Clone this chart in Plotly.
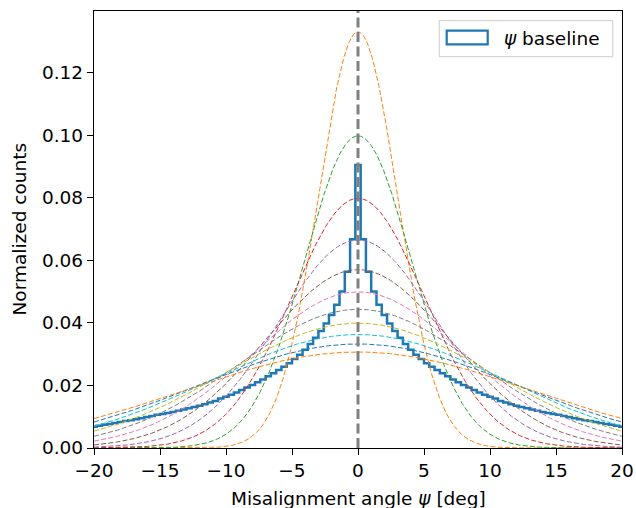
import numpy as np
import plotly.graph_objects as go

# ---------------- data ----------------
bin_first_edge = -20.2
bin_width = 0.4
# normalized counts of psi baseline histogram (101 bins, left to right)
counts_right = [0.0904, 0.0667, 0.0563, 0.0500, 0.0458, 0.0425, 0.0398, 0.0374, 0.0352, 0.0332,
                0.0314, 0.0298, 0.0284, 0.0271, 0.0260, 0.0249, 0.0239, 0.0229, 0.0219, 0.0210,
                0.0201, 0.0193, 0.0185, 0.0177, 0.0170, 0.0164, 0.0158, 0.0150, 0.0145, 0.0140,
                0.0135, 0.0131, 0.0127, 0.0123, 0.0119, 0.0115, 0.0112, 0.0109, 0.0106, 0.0102,
                0.0099, 0.0095, 0.0092, 0.0089, 0.0086, 0.0083, 0.0080, 0.0077, 0.0074, 0.0071,
                0.0068]
counts_left = [0.0068, 0.0071, 0.0074, 0.0077, 0.0080, 0.0083, 0.0086, 0.0089, 0.0092, 0.0095,
               0.0099, 0.0102, 0.0106, 0.0109, 0.0112, 0.0115, 0.0119, 0.0123, 0.0127, 0.0131,
               0.0135, 0.0140, 0.0145, 0.0150, 0.0158, 0.0164, 0.0170, 0.0177, 0.0185, 0.0193,
               0.0201, 0.0210, 0.0219, 0.0229, 0.0239, 0.0249, 0.0260, 0.0271, 0.0284, 0.0298,
               0.0314, 0.0332, 0.0352, 0.0374, 0.0398, 0.0425, 0.0458, 0.0500, 0.0563, 0.0667]
hist_counts = counts_left + counts_right

# widths (deg) of the reference Gaussian curves
sigmas = [3, 4, 5, 6, 7, 8, 9, 10, 11, 12, 13]
curve_colors = ["#ff7f0e", "#2ca02c", "#d62728", "#9467bd", "#8c564b", "#e377c2",
                "#7f7f7f", "#bcbd22", "#17becf", "#1f77b4", "#ff7f0e"]

x_ticks = [-20, -15, -10, -5, 0, 5, 10, 15, 20]
y_ticks = [0.00, 0.02, 0.04, 0.06, 0.08, 0.10, 0.12]
legend_label = "<i>ψ</i> baseline"
x_label = "Misalignment angle <i>ψ</i> [deg]"
y_label = "Normalized counts"

# ---------------- figure ----------------
FONT = "DejaVu Sans"
FS = 18.5
W, H = 636, 508
L, R, T, B = 94, 14, 11, 60
pw, ph = W - L - R, H - T - B

def px2paper_x(px):
    return (px - L) / pw

def px2paper_y(py):
    return (H - B - py) / ph

fig = go.Figure()

n = len(hist_counts)
edges = [bin_first_edge + i * bin_width for i in range(n + 1)]
hx = [edges[0]] + edges + [edges[-1]]
hy = [0] + hist_counts + [hist_counts[-1], 0]
fig.add_trace(go.Scatter(x=hx, y=hy, mode="lines", line=dict(color="#1f77b4", width=2.5, shape="hv"),
                         showlegend=False, hoverinfo="skip"))

xs = np.linspace(-20, 20, 801)
for s, c in zip(sigmas, curve_colors):
    ys = np.exp(-0.5 * (xs / s) ** 2) / (np.sqrt(2 * np.pi) * s)
    fig.add_trace(go.Scatter(x=xs, y=ys, mode="lines",
                             line=dict(color=c, width=1, dash="5px,2.2px"),
                             showlegend=False, hoverinfo="skip"))

ymax = max(1 / (np.sqrt(2 * np.pi) * min(sigmas)), max(hist_counts)) * 1.05

shapes = [
    dict(type="line", xref="x", yref="paper", x0=0, x1=0, y0=0, y1=1,
         line=dict(color="gray", width=3, dash="10px,4.5px"), layer="above"),
    dict(type="rect", xref="paper", yref="paper",
         x0=px2paper_x(439.3), x1=px2paper_x(612.7), y0=px2paper_y(56.7), y1=px2paper_y(20.7),
         line=dict(color="#d5d5d5", width=1.2), fillcolor="rgba(255,255,255,0.85)", layer="above"),
    dict(type="rect", xref="paper", yref="paper",
         x0=px2paper_x(446.7), x1=px2paper_x(487.7), y0=px2paper_y(44.3), y1=px2paper_y(30.7),
         line=dict(color="#1f77b4", width=2.2), fillcolor="rgba(0,0,0,0)", layer="above"),
]

annotations = [
    dict(text=legend_label, xref="paper", yref="paper", x=px2paper_x(502), y=px2paper_y(38),
         xanchor="left", yanchor="middle", showarrow=False, font=dict(family=FONT, size=FS, color="black")),
    dict(text=x_label, xref="paper", yref="paper", x=0.5, y=px2paper_y(498),
         xanchor="center", yanchor="middle", showarrow=False, font=dict(family=FONT, size=FS, color="black")),
    dict(text=y_label, xref="paper", yref="paper", x=px2paper_x(19), y=0.5, textangle=-90,
         xanchor="center", yanchor="middle", showarrow=False, font=dict(family=FONT, size=FS, color="black")),
]

axis_common = dict(showgrid=False, zeroline=False, showline=True, linecolor="black", linewidth=1.4,
                   mirror=True, ticks="outside", ticklen=6, tickwidth=1.4, tickcolor="black",
                   automargin=False,
                   tickfont=dict(family=FONT, size=FS, color="black"))

fig.update_layout(
    width=W, height=H, margin=dict(l=L, r=R, t=T, b=B, autoexpand=False), autosize=False,
    paper_bgcolor="white", plot_bgcolor="white",
    showlegend=False, shapes=shapes, annotations=annotations,
    xaxis=dict(range=[-20, 20], tickvals=x_ticks, **axis_common),
    yaxis=dict(range=[0, ymax], tickvals=y_ticks, tickformat=".2f", **axis_common),
)

fig.write_html("out.html", config={"displayModeBar": False, "responsive": False},
               post_script="document.body.style.margin='0px';document.body.style.overflow='hidden';")
